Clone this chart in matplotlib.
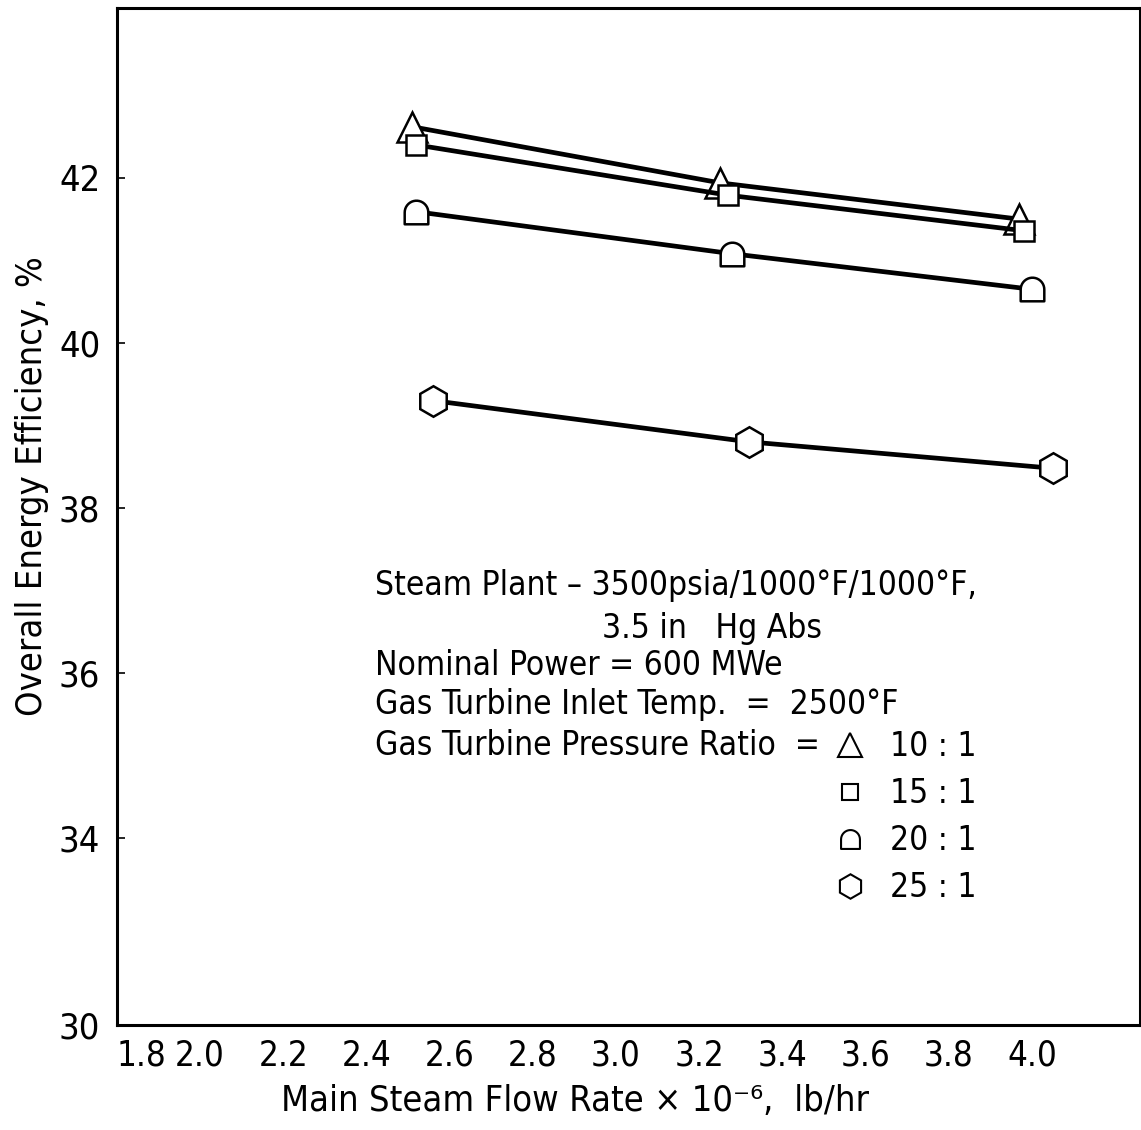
import numpy as np
import matplotlib
matplotlib.use("Agg")
import matplotlib.pyplot as plt
from matplotlib.path import Path
from matplotlib.lines import Line2D
from matplotlib.transforms import ScaledTranslation

plt.rcParams['font.family'] = ['DejaVu Sans']
plt.rcParams['font.stretch'] = 'condensed'

# data (flow rate x 1e-6 lb/hr, efficiency %)
ratios = ["10 : 1", "15 : 1", "20 : 1", "25 : 1"]
flow_10 = [2.51, 3.25, 3.97]
eff_10 = [42.62, 41.94, 41.50]
flow_15 = [2.52, 3.27, 3.98]
eff_15 = [42.40, 41.79, 41.36]
flow_20 = [2.52, 3.28, 4.00]
eff_20 = [41.59, 41.08, 40.65]
flow_25 = [2.56, 3.32, 4.05]
eff_25 = [39.30, 38.80, 38.48]

xticks = [1.8, 2.0, 2.2, 2.4, 2.6, 2.8, 3.0, 3.2, 3.4, 3.6, 3.8, 4.0]
xticklabels = ["1.8", "2.0", "2.2", "2.4", "2.6", "2.8", "3.0",
               "3.2", "3.4", "3.6", "3.8", "4.0"]
# broken axis: bottom of the frame is labelled 30
ybottom = 31.73
yticks = [ybottom, 34, 36, 38, 40, 42]
yticklabels = ["30", "34", "36", "38", "40", "42"]

notes = [
    "Steam Plant \u2013 3500psia/1000\u00b0F/1000\u00b0F,",
    "3.5 in   Hg Abs",
    "Nominal Power = 600 MWe",
    "Gas Turbine Inlet Temp.  =  2500\u00b0F",
    "Gas Turbine Pressure Ratio  =",
]

# "D" shaped marker: round top, flat bottom
t = np.linspace(0, np.pi, 20)
verts = [(-1, -1), (1, -1)] + list(zip(np.cos(t), np.sin(t))) + [(-1, -1)]
dome = Path(verts, closed=True)

series = [
    (flow_10, eff_10, '^', 21),
    (flow_15, eff_15, 's', 15),
    (flow_20, eff_20, dome, 17),
    (flow_25, eff_25, 'h', 22),
]

fig = plt.figure(figsize=(11.41, 11.30), dpi=100)
ax = fig.add_axes([117 / 1141, 105 / 1130, 1023 / 1141, 1017 / 1130])

for fx, fy, m, ms in series:
    ax.plot(fx, fy, color='black', lw=3.4, marker=m, ms=ms,
            mfc='white', mec='black', mew=1.8, zorder=3)

ax.set_xlim(1.8, 4.26)
ax.set_ylim(ybottom, 44.06)
ax.set_xticks(xticks)
ax.set_xticklabels(xticklabels)
ax.set_yticks(yticks)
ax.set_yticklabels(yticklabels)
ax.tick_params(axis='x', length=0, labelsize=25, pad=10)
ax.tick_params(axis='y', direction='in', length=6, width=1.2,
               labelsize=26, pad=12)
for sp in ax.spines.values():
    sp.set_linewidth(2.2)

# the "1.8" label sits inside the frame in the original
first = ax.get_xticklabels()[0]
first.set_transform(first.get_transform() + ScaledTranslation(0.24, 0, fig.dpi_scale_trans))

ax.set_xlabel("Main Steam Flow Rate \u00d7 10\u207b\u2076,  lb/hr", fontsize=26)
ax.xaxis.set_label_coords(0.448, -0.058)
ax.set_ylabel("Overall Energy Efficiency, %", fontsize=26)
ax.yaxis.set_label_coords(-0.066, 0.53)

# annotation block
ax.text(0.252, 0.4326, notes[0], fontsize=24, va='center', transform=ax.transAxes)
ax.text(0.474, 0.390, notes[1], fontsize=24, va='center', transform=ax.transAxes)
ax.text(0.252, 0.353, notes[2], fontsize=24, va='center', transform=ax.transAxes)
ax.text(0.252, 0.3147, notes[3], fontsize=24, va='center', transform=ax.transAxes)
ax.text(0.252, 0.2753, notes[4], fontsize=24, va='center', transform=ax.transAxes)

handles = [Line2D([], [], ls='none', marker=m, ms=ms * 0.8, mfc='white',
                  mec='black', mew=1.5) for _, _, m, ms in series]
ax.legend(handles, ratios, loc='upper left', bbox_to_anchor=(0.690, 0.303),
          frameon=False, fontsize=24, handlelength=0.8, handletextpad=0.8,
          labelspacing=0.42, borderaxespad=0)

fig.savefig("out.png", dpi=100)
